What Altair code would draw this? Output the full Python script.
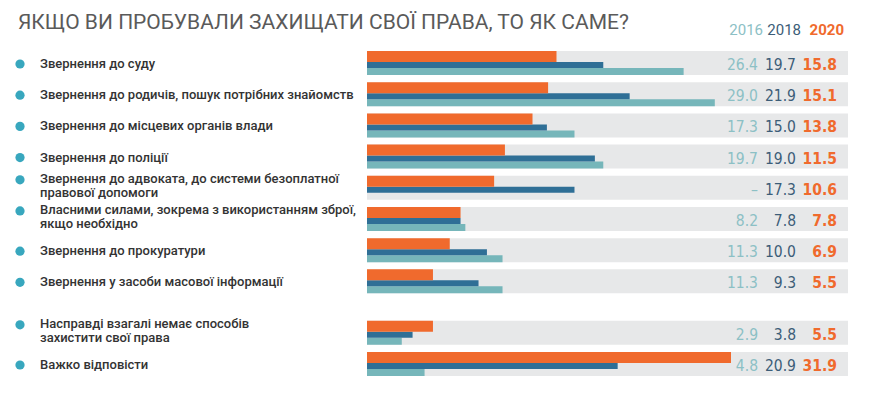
import altair as alt
import pandas as pd

title_text = "ЯКЩО ВИ ПРОБУВАЛИ ЗАХИЩАТИ СВОЇ ПРАВА, ТО ЯК САМЕ?"
labels = [
    "Звернення до суду",
    "Звернення до родичів, пошук потрібних знайомств",
    "Звернення до місцевих органів влади",
    "Звернення до поліції",
    "Звернення до адвоката, до системи безоплатної\nправової допомоги",
    "Власними силами, зокрема з використанням зброї,\nякщо необхідно",
    "Звернення до прокуратури",
    "Звернення у засоби масової інформації",
    "Насправді взагалі немає способів\nзахистити свої права",
    "Важко відповісти",
]
v2016 = [26.4, 29.0, 17.3, 19.7, None, 8.2, 11.3, 11.3, 2.9, 4.8]
v2018 = [19.7, 21.9, 15.0, 19.0, 17.3, 7.8, 10.0, 9.3, 3.8, 20.9]
v2020 = [15.8, 15.1, 13.8, 11.5, 10.6, 7.8, 6.9, 5.5, 5.5, 31.9]
years = ["2016", "2018", "2020"]

C16, C18, C20 = "#76b6ba", "#2f6f96", "#f06a2d"
T16, T18 = "#8cc0c5", "#3c5d78"
GREY, DOT = "#e7e8e9", "#38a7be"
FONT = "Roboto"
NUMFONT = "'DejaVu Sans Condensed', 'Liberation Sans Narrow', Roboto, sans-serif"

n = len(labels)
pos = [i + (0.65 if i >= 8 else 0) for i in range(n)]
nlines = [l.count("\n") + 1 for l in labels]


def fmt(v):
    return "–" if v is None else f"{v:.1f}"


df = pd.DataFrame({
    "label": labels,
    "v2016": v2016,
    "v2018": v2018,
    "v2020": v2020,
    "pos": pos,
    "nlines": nlines,
})
df["t16"] = [fmt(v) for v in v2016]
df["t18"] = [fmt(v) for v in v2018]
df["t20"] = [fmt(v) for v in v2020]

# bars longer than the available room are cut before the value labels (as in the source)
xs = alt.Scale(domain=[0, 30.35], range=[359, 723], nice=False, padding=0,
               zero=True, clamp=True)
ys = alt.Scale(domain=[0, 9.65], range=[55, 356], zero=False, nice=False, padding=0)
Y = alt.Y("pos:Q", scale=ys, axis=None)

base = alt.Chart(df)

bg = base.mark_bar(orient="horizontal", size=24, color=GREY).encode(
    x=alt.value(359), x2=alt.value(840), y=Y)
b20 = base.mark_bar(orient="horizontal", size=11, yOffset=-6.5, color=C20).encode(
    x=alt.X("v2020:Q", scale=xs, axis=None), y=Y)
b18 = base.mark_bar(orient="horizontal", size=6, yOffset=2, color=C18).encode(
    x=alt.X("v2018:Q", scale=xs, axis=None), y=Y)
b16 = base.mark_bar(orient="horizontal", size=7, yOffset=8.5, color=C16).encode(
    x=alt.X("v2016:Q", scale=xs, axis=None), y=Y)

dots1 = base.mark_circle(size=85, color=DOT, opacity=1, yOffset=1).encode(
    x=alt.value(12), y=Y).transform_filter("datum.nlines == 1")
dots2 = base.mark_circle(size=85, color=DOT, opacity=1, yOffset=-8).encode(
    x=alt.value(12), y=Y).transform_filter("datum.nlines > 1")

lab_kw = dict(align="left", baseline="middle", lineBreak="\n", font=FONT,
              fontSize=13, fontWeight=500, color="#333333", lineHeight=14.5)
lab1 = base.mark_text(dy=1, **lab_kw).encode(
    x=alt.value(32), y=Y, text="label:N").transform_filter("datum.nlines == 1")
lab2 = base.mark_text(dy=-9, **lab_kw).encode(
    x=alt.value(32), y=Y, text="label:N").transform_filter("datum.nlines > 1")

num_kw = dict(align="right", baseline="middle", font=NUMFONT, fontSize=15.5, dy=2)
n16 = base.mark_text(color=T16, fontWeight=300, **num_kw).encode(
    x=alt.value(750), y=Y, text="t16:N")
n18 = base.mark_text(color=T18, fontWeight=300, **num_kw).encode(
    x=alt.value(788), y=Y, text="t18:N")
n20 = base.mark_text(color=C20, fontWeight="bold", **num_kw).encode(
    x=alt.value(829), y=Y, text="t20:N")

hdr = pd.DataFrame({
    "year": years,
    "hx": [755, 793, 836],
    "col": [T16, T18, C20],
    "bold": [False, False, True],
})
hbase = alt.Chart(hdr).encode(
    x=alt.X("hx:Q", scale=None), y=alt.value(22), text="year:N",
    color=alt.Color("col:N", scale=None))
header_n = hbase.mark_text(align="right", baseline="middle", font=FONT,
                           fontSize=15).transform_filter("!datum.bold")
header_b = hbase.mark_text(align="right", baseline="middle", font=FONT,
                           fontSize=15, fontWeight="bold").transform_filter("datum.bold")

ttl = alt.Chart(pd.DataFrame({"t": [title_text]})).mark_text(
    align="left", baseline="middle", font=FONT, fontSize=21, color="#5a5a5a").encode(
    x=alt.value(10), y=alt.value(15), text="t:N")

chart = alt.layer(bg, b16, b18, b20, dots1, dots2, lab1, lab2, n16, n18, n20,
                  header_n, header_b, ttl).properties(
    width=859, height=382, autosize=alt.AutoSizeParams(type="none"), padding=0
).configure_view(stroke=None)

chart.save("out.html", embed_options={"renderer": "svg", "actions": False})
